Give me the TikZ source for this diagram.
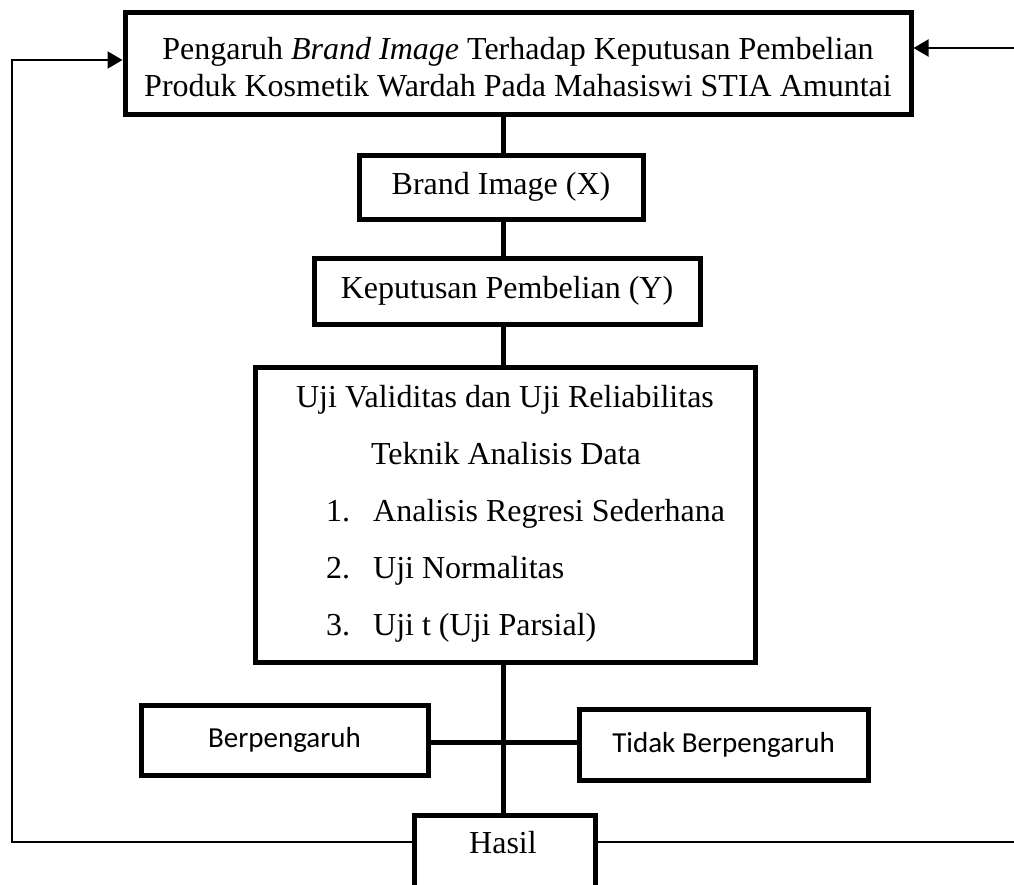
\documentclass[tikz,border=0pt]{standalone}
\usepackage{fontspec}
\setmainfont{Liberation Serif}
\newfontfamily\sansf{Carlito}
\usetikzlibrary{arrows.meta}
\begin{document}
\begin{tikzpicture}[x=1pt,y=-1pt,
  box/.style={draw, line width=5pt, rectangle, inner sep=0pt},
  serif/.style={font=\fontsize{32}{37}\selectfont},
  sanst/.style={font=\sansf\fontsize{29}{34}\selectfont},
  txt/.style={inner sep=0pt, serif},
  conn/.style={line width=5pt},
  fb/.style={line width=2pt, -{Triangle[length=15pt,width=17pt]}}
]
\useasboundingbox (0,0) rectangle (1014,884);
\clip (0,0) rectangle (1014,884);
\fill[white] (0,0) rectangle (1014,884);

% spine coordinates
\coordinate (sp) at (503,0);
\coordinate (jn) at (503,742);
\coordinate (fbL) at (12,842);
\coordinate (fbR) at (1040,842);
\coordinate (arrL) at (0,60);
\coordinate (arrR) at (0,48);

% boxes
\node[box, minimum width=786pt, minimum height=102pt] (top) at (518,63) {};
\node[txt, align=center] (toptxt) at (518,67)
  {Pengaruh \textit{Brand Image} Terhadap Keputusan Pembelian\\Produk Kosmetik Wardah Pada Mahasiswi STIA Amuntai};
\node[box, serif, minimum width=284pt, minimum height=64pt] (brand) at (501,187) {Brand Image (X)};
\node[box, serif, minimum width=386pt, minimum height=66pt] (kep) at (507,291) {Keputusan Pembelian (Y)};
\node[box, minimum width=500pt, minimum height=295pt] (uji) at (505,514.5) {};
\node[box, sanst, minimum width=287pt, minimum height=70pt] (berp) at (284.5,740) {Berpengaruh};
\node[box, sanst, minimum width=289pt, minimum height=71pt] (tidak) at (723.5,744.5) {Tidak Berpengaruh};
\node[box, minimum width=181pt, minimum height=100pt] (hasil) at (504.5,865) {};

% texts inside the analysis box
\node[txt, anchor=base] (t1) at (505,407) {Uji Validitas dan Uji Reliabilitas};
\node[txt, anchor=base] (t2) at (506,464) {Teknik Analisis Data};
\node[txt, anchor=base west] (n1) at (326,521) {1.};
\node[txt, anchor=base west] (i1) at (373,521) {Analisis Regresi Sederhana};
\node[txt, anchor=base west] (n2) at (326,578) {2.};
\node[txt, anchor=base west] (i2) at (373,578) {Uji Normalitas};
\node[txt, anchor=base west] (n3) at (326,635) {3.};
\node[txt, anchor=base west] (i3) at (373,635) {Uji t (Uji Parsial)};
\node[txt, anchor=base] (hasiltxt) at (503,853) {Hasil};

% spine connectors
\draw[conn] (top.south -| sp) -- (brand.north -| sp);
\draw[conn] (brand.south -| sp) -- (kep.north -| sp);
\draw[conn] (kep.south -| sp) -- (uji.north -| sp);
\draw[conn] (uji.south -| sp) -- (hasil.north -| sp);
\draw[conn] (berp.east |- jn) -- (tidak.west |- jn);

% feedback loops
\draw[fb] (hasil.west |- fbL) -- (fbL) |- (top.west |- arrL);
\draw[fb] (hasil.east |- fbR) -- (fbR) |- (top.east |- arrR);
\end{tikzpicture}
\end{document}
